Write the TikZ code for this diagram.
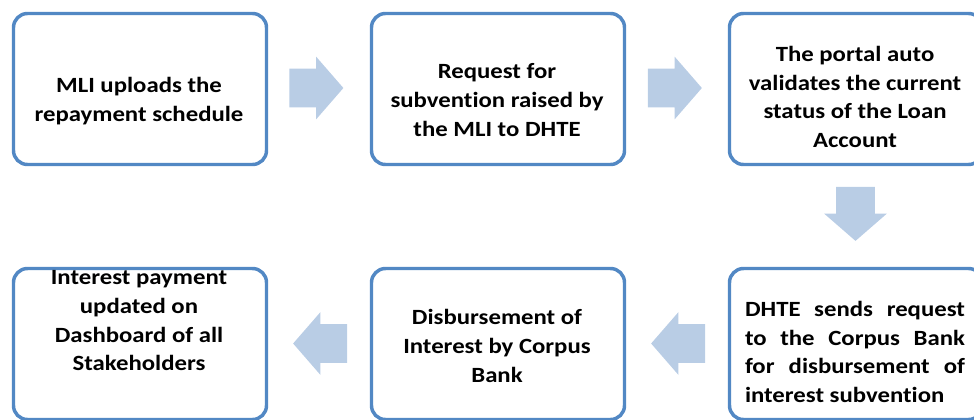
\documentclass[tikz,border=0pt]{standalone}
\usepackage{fontspec}
\setmainfont{Carlito}[FakeStretch=1.14, Ligatures=NoCommon]
\usetikzlibrary{shapes.arrows}
\definecolor{boxline}{RGB}{82,136,196}
\definecolor{arrowfill}{RGB}{185,205,229}
\tikzset{
  flowbox/.style={draw=boxline, line width=2.6pt, rounded corners=10.5pt, fill=white,
    minimum width=189.75pt, minimum height=113.25pt, inner sep=0pt},
  flowtext/.style={font=\fontsize{16.3}{21.5}\selectfont\bfseries, align=center, inner sep=0pt, text=black},
  blockarrow/.style={single arrow, fill=arrowfill, draw=none, inner sep=0pt,
    minimum height=40.5pt, single arrow head extend=9pt, single arrow tip angle=98}
}
\begin{document}
\begin{tikzpicture}[x=0.75pt,y=-0.75pt]
\useasboundingbox (0,0) rectangle (974,419);
\begin{scope}
\clip (0,0) rectangle (974,419);
% boxes
\node[flowbox] (b1) at (140,89) {};
\node[flowbox] (b2) at (498,89) {};
\node[flowbox] (b3) at (856,89) {};
\node[flowbox] (b4) at (140,344) {};
\node[flowbox] (b5) at (498,344) {};
\node[flowbox] (b6) at (856,344) {};
\end{scope}
% texts
\node[flowtext] (t1) at (139,101) {MLI uploads the\\repayment schedule};
\node[flowtext] (t2) at (497,100) {Request for\\subvention raised by\\the MLI to DHTE};
\node[flowtext] (t3) at (855,97) {The portal auto\\validates the current\\status of the Loan\\Account};
\node[flowtext] (t4) at (139,321) {Interest payment\\updated on\\Dashboard of all\\Stakeholders};
\node[flowtext] (t5) at (497,346) {Disbursement of\\Interest by Corpus\\Bank};
\node[flowtext, text width=165pt, align=justify] (t6) at (855,352)
  {DHTE sends request\linebreak to the Corpus Bank\linebreak for disbursement of\linebreak interest subvention};
% block arrows
\node[blockarrow] (a12) at (308,88) {\rule{0pt}{28.5pt}};
\node[blockarrow] (a23) at (666.5,88) {\rule{0pt}{28.5pt}};
\node[blockarrow, rotate=-90] (a36) at (855.5,205.5) {\rule{0pt}{28.5pt}};
\node[blockarrow, shape border rotate=180] (a65) at (686.5,343.5) {\rule{0pt}{28.5pt}};
\node[blockarrow, shape border rotate=180] (a54) at (328.5,343.5) {\rule{0pt}{28.5pt}};
\end{tikzpicture}
\end{document}
